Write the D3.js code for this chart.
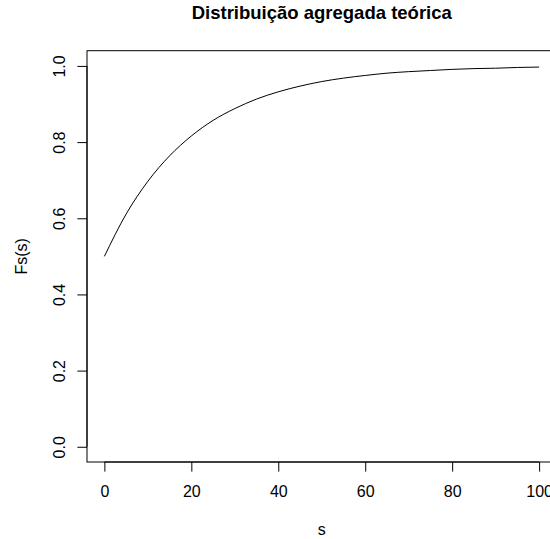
<!DOCTYPE html>
<html>
<head>
<meta charset="utf-8">
<script src="https://cdn.jsdelivr.net/npm/d3@7"></script>
<style>
  html, body { margin: 0; padding: 0; background: #fff; overflow: hidden; }
  svg { display: block; font-family: "Liberation Sans", Arial, Helvetica, sans-serif; }
</style>
</head>
<body>
<div id="chart"></div>
<script>
// valores
const sValues  = [0, 5, 10, 15, 20, 25, 30, 35, 40, 45, 50, 55, 60, 65, 70, 75, 80, 85, 90, 95, 100]
const fsValues = [0.500, 0.611, 0.697, 0.764, 0.816, 0.857, 0.888, 0.913, 0.932, 0.947, 0.959,
                  0.968, 0.975, 0.981, 0.985, 0.988, 0.991, 0.993, 0.994, 0.996, 0.997]
const xTicks = [0, 20, 40, 60, 80, 100]
const yTicks = [0, 0.2, 0.4, 0.6, 0.8, 1.0]
const title = "Distribuição agregada teórica"
const xLabel = "s"
const yLabel = "Fs(s)"

const width = 550, height = 539
const box = { left: 87, top: 50.7, bottom: 462, right: 556.5 }

const data = sValues.map((s, i) => ({ s, f: fsValues[i] }))

const x = d3.scaleLinear().domain([-4, 104]).range([box.left, box.right])
const y = d3.scaleLinear().domain([-0.04, 1.04]).range([box.bottom, box.top])

const svg = d3.select("#chart").append("svg")
    .attr("width", width)
    .attr("height", height)

// caixa do gráfico
svg.append("rect")
    .attr("x", box.left)
    .attr("y", box.top)
    .attr("width", box.right - box.left)
    .attr("height", box.bottom - box.top)
    .attr("fill", "none")
    .attr("stroke", "#000")
    .attr("stroke-width", 1)

// eixo x
const gx = svg.append("g")
    .attr("transform", `translate(0, ${box.bottom})`)
    .call(d3.axisBottom(x).tickValues(xTicks).tickSize(9.6).tickSizeOuter(0).tickFormat(d3.format("d")))
gx.select(".domain").attr("d", `M${x(xTicks[0])},0H${x(xTicks[xTicks.length - 1])}`)
gx.selectAll("line").attr("stroke", "#000")
gx.selectAll("text")
    .attr("y", 35)
    .attr("dy", 0)
    .attr("fill", "#000")
    .style("font-size", "16px")
    .style("font-family", "Liberation Sans, Arial, sans-serif")

// eixo y
const gy = svg.append("g")
    .attr("transform", `translate(${box.left}, 0)`)
    .call(d3.axisLeft(y).tickValues(yTicks).tickSize(9.6).tickSizeOuter(0).tickFormat(d3.format(".1f")))
gy.select(".domain").attr("d", `M0,${y(yTicks[0])}V${y(yTicks[yTicks.length - 1])}`)
gy.selectAll("line").attr("stroke", "#000")
gy.selectAll("text")
    .attr("x", 0)
    .attr("dy", 0)
    .attr("text-anchor", "middle")
    .attr("transform", "translate(-22.5, 0) rotate(-90)")
    .attr("fill", "#000")
    .style("font-size", "16px")
    .style("font-family", "Liberation Sans, Arial, sans-serif")

// curva
svg.append("path")
    .datum(data)
    .attr("fill", "none")
    .attr("stroke", "#000")
    .attr("stroke-width", 1)
    .attr("d", d3.line().x(d => x(d.s)).y(d => y(d.f)).curve(d3.curveMonotoneX))

// títulos
svg.append("text")
    .attr("x", (box.left + box.right) / 2)
    .attr("y", 18.5)
    .attr("text-anchor", "middle")
    .attr("font-weight", "bold")
    .style("font-size", "18.5px")
    .text(title)

svg.append("text")
    .attr("x", (box.left + box.right) / 2)
    .attr("y", 535)
    .attr("text-anchor", "middle")
    .style("font-size", "16px")
    .text(xLabel)

svg.append("text")
    .attr("transform", `translate(27, ${(box.top + box.bottom) / 2}) rotate(-90)`)
    .attr("text-anchor", "middle")
    .style("font-size", "16px")
    .text(yLabel)
</script>
</body>
</html>
